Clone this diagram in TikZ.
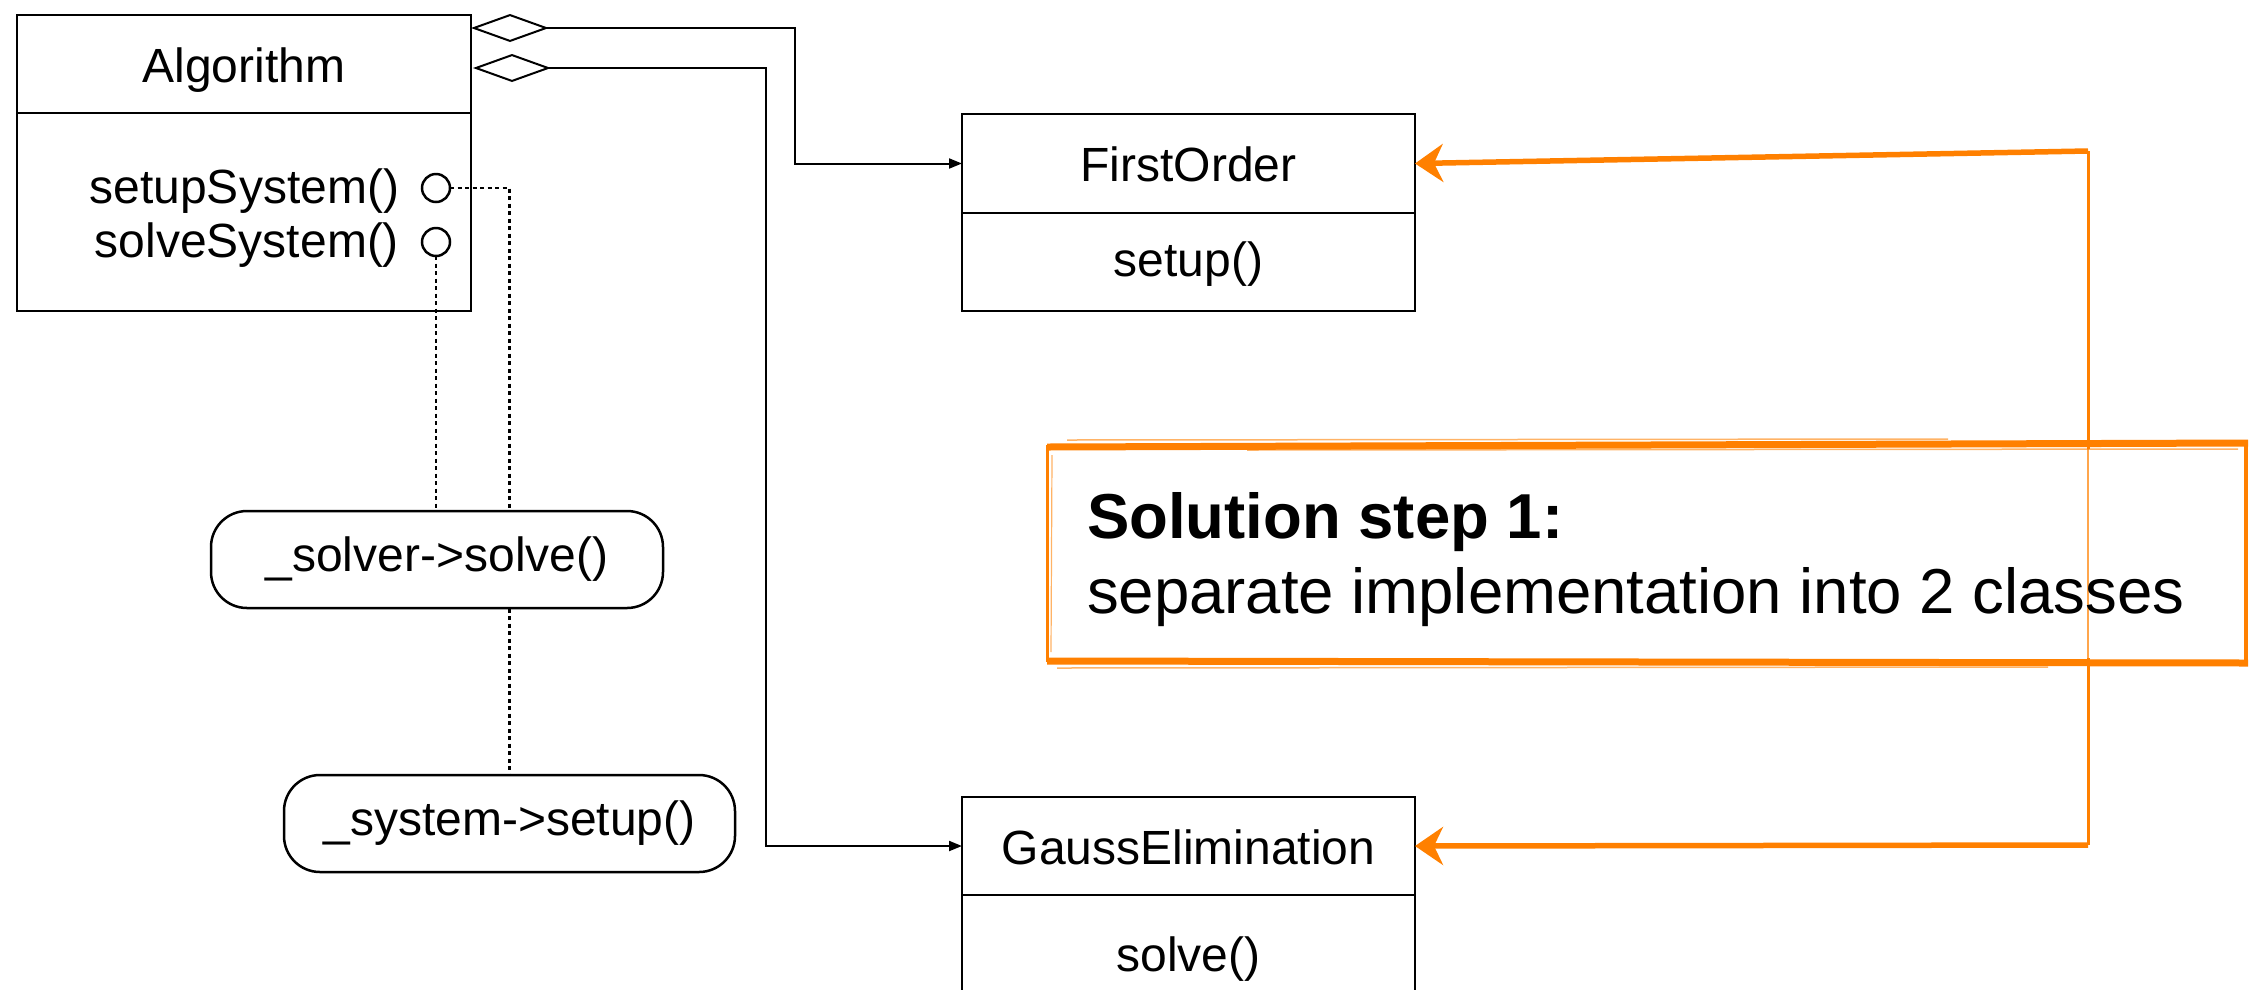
\documentclass[tikz,border=0pt]{standalone}
\usepackage{fontspec}
\setmainfont{Liberation Sans}
\usetikzlibrary{arrows.meta,calc}
\definecolor{sketch}{RGB}{255,128,0}
\begin{document}
\begin{tikzpicture}[x=1pt,y=-1pt,
  every node/.style={inner sep=0pt, outer sep=0pt},
  part/.style={draw=black, line width=2.5pt},
  lbl/.style={font=\fontsize{48pt}{56pt}\selectfont, anchor=base},
  callbox/.style={draw=black, line width=2.5pt, fill=white, rounded corners=36pt,
    font=\fontsize{48pt}{56pt}\selectfont},
  port/.style={draw=black, line width=2.5pt, circle, minimum size=28pt, fill=white},
  dotlink/.style={draw=black, line width=2.2pt, dash pattern=on 4pt off 3.5pt},
  assoc/.style={draw=black, line width=2pt,
    {Diamond[open,length=78pt,width=28pt,line width=2pt]}-{Triangle[length=13pt,width=10pt]}},
  oline/.style={draw=sketch, line width=5.5pt},
  oarrow/.style={oline, -{Stealth[length=28pt,width=38pt,inset=9pt]}},
  bignote/.style={font=\fontsize{63.5pt}{72pt}\selectfont, anchor=base west},
]
\useasboundingbox (0,0) rectangle (2250,989);
\clip (0,0) rectangle (2250,989);

% Algorithm class
\node[part, minimum width=454pt, minimum height=98pt] (algT) at (244,64) {};
\node[part, minimum width=454pt, minimum height=198pt, anchor=north] (algB) at (algT.south) {};
\node[lbl] (algN) at (244,82) {Algorithm};
\node[lbl, anchor=base east] (m1) at (399,203) {setupSystem()};
\node[lbl, anchor=base east] (m2) at (399,257) {solveSystem()};
\node[port] (p1) at (436,188) {};
\node[port] (p2) at (436,242) {};

% call boxes and dotted links
\node[callbox, minimum width=451pt, minimum height=97pt] (sys) at (509.5,823.5) {\_system->setup()};
\draw[dotlink] (p1.east) -| (sys.north);
\node[callbox, minimum width=452pt, minimum height=97pt] (solver) at (437,559.5) {\_solver->solve()};
\draw[dotlink] (p2.south) -- (p2.south |- solver.north);

% FirstOrder class
\node[part, minimum width=453pt, minimum height=99pt] (firstT) at (1188.5,163.5) {};
\node[part, minimum width=453pt, minimum height=98pt, anchor=north] (firstB) at (firstT.south) {};
\node[lbl] (firstN) at (1188.5,181) {FirstOrder};
\node[lbl] (firstM) at (1188.5,276) {setup()};

% GaussElimination class
\node[part, minimum width=453pt, minimum height=98pt] (gaussT) at (1188.5,846) {};
\node[part, minimum width=453pt, minimum height=100pt, anchor=north] (gaussB) at (gaussT.south) {};
\node[lbl] (gaussN) at (1188.5,864) {GaussElimination};
\node[lbl] (gaussM) at (1188.5,971) {solve()};

% aggregation connectors
\coordinate (bend1) at (795,28);
\coordinate (bend2) at (766,68);
\draw[assoc] ([yshift=-13pt]algT.north east) -- (bend1) |- (firstT.west);
\draw[assoc] ([xshift=2pt,yshift=-53pt]algT.north east) -- (bend2) |- (gaussT.west);

% orange note
\node[minimum width=1201pt, minimum height=217pt] (note) at (1647.5,553.5) {};
\coordinate (o1) at (2088,151);
\coordinate (o2) at (2088,845);
\draw[sketch, line width=3pt] (o1) -- ([yshift=-4pt]note.north -| o1);
\draw[sketch, line width=1.5pt, opacity=.7] ([yshift=-4pt]note.north -| o1) -- ([yshift=4pt]note.south -| o1);
\draw[sketch, line width=3pt] ([yshift=4pt]note.south -| o1) -- (o2);
\draw[oarrow] (o1) -- (firstT.east);
\draw[oarrow] (o2) -- (gaussT.east);

\draw[sketch, line width=7pt] ([yshift=-2pt]note.north west) -- ([yshift=2pt]note.north east);
\draw[sketch, line width=1.5pt, opacity=.6] ([xshift=20pt,yshift=5pt]note.north west) -- ([xshift=-300pt,yshift=6pt]note.north east);
\draw[sketch, line width=1.5pt, opacity=.6] ([xshift=200pt,yshift=-5pt]note.north west) -- ([xshift=-10pt,yshift=-4pt]note.north east);
\draw[sketch, line width=7pt] ([yshift=1pt]note.south west) -- ([yshift=-1pt]note.south east);
\draw[sketch, line width=1.5pt, opacity=.6] ([xshift=10pt,yshift=-6pt]note.south west) -- ([xshift=-200pt,yshift=-5pt]note.south east);
\draw[sketch, line width=3pt] (note.north west) -- (note.south west);
\draw[sketch, line width=1.2pt, opacity=.6] ([xshift=5pt,yshift=-10pt]note.north west) -- ([xshift=4pt,yshift=10pt]note.south west);
\draw[sketch, line width=4pt] ([xshift=-2pt]note.north east) -- ([xshift=-2pt]note.south east);

\node[bignote, font=\fontsize{63.5pt}{72pt}\selectfont\bfseries] (s1) at (1087,538) {Solution step 1:};
\node[bignote] (s2) at (1087,613) {separate implementation into 2 classes};
\end{tikzpicture}
\end{document}
